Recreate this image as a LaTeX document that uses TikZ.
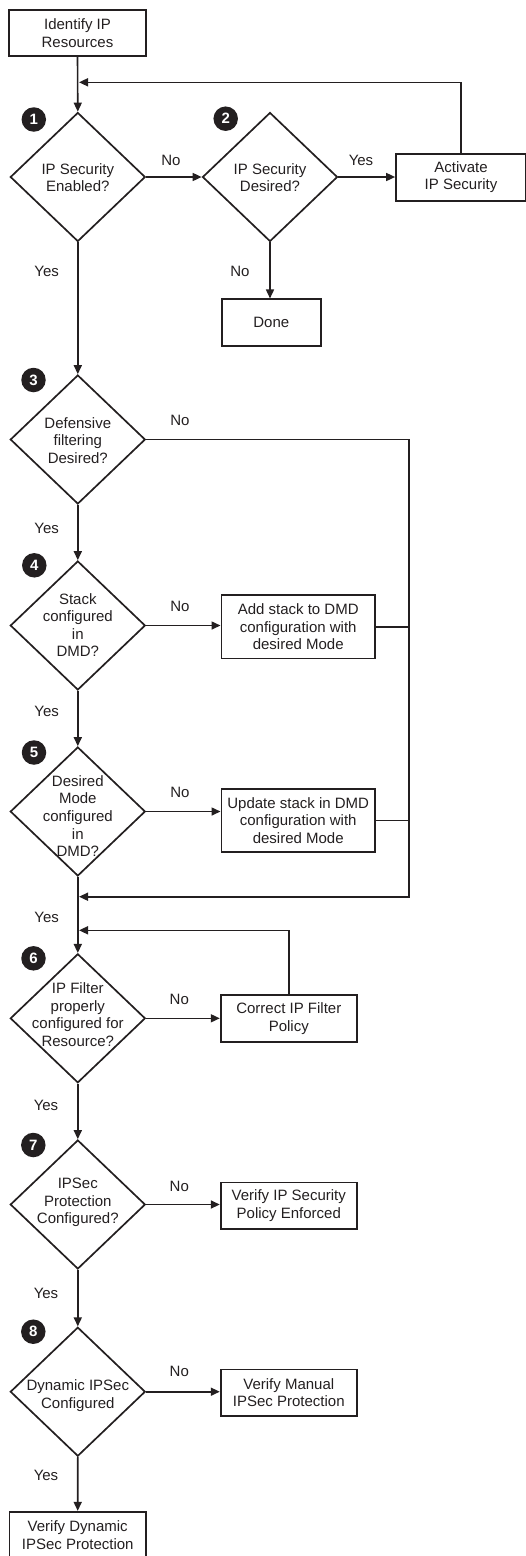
\documentclass[tikz,border=0pt]{standalone}
\usepackage{fontspec}
\setmainfont{Liberation Sans}
\usetikzlibrary{shapes.geometric,arrows.meta}
\definecolor{ink}{HTML}{231F20}
\begin{document}
\begin{tikzpicture}[x=1pt,y=-1pt,
  line width=1.6pt, draw=ink,
  font=\fontsize{15}{17.6}\selectfont,
  box/.style={draw=ink, rectangle, inner sep=0pt, align=center, line width=1.7pt, text=ink},
  dia/.style={draw=ink, diamond, minimum width=135pt, minimum height=129pt, inner sep=0pt, line width=1.7pt},
  dtext/.style={align=center, inner sep=0pt, text=ink},
  lbl/.style={inner sep=0pt, text=ink},
  num/.style={circle, fill=ink, text=white, minimum size=24.5pt, inner sep=0pt, font=\fontsize{15}{15}\selectfont\bfseries},
  arr/.style={draw=ink, line width=1.6pt, -{Triangle[length=9pt,width=8pt]}},
  con/.style={draw=ink, line width=1.6pt},
]
\useasboundingbox (0,0) rectangle (526,1556);

% nodes
\node[box, minimum width=136.4pt, minimum height=46pt] (s0) at (77.5,33) {Identify IP\\Resources};
\node[dia] (d1) at (77.8,177) {};
\node[dtext] (t1) at (77.8,177.5) {IP Security\\Enabled?};
\node[dia] (d2) at (270,177) {};
\node[dtext] (t2) at (270,177.5) {IP Security\\Desired?};
\node[box, minimum width=130pt, minimum height=46.7pt] (act) at (461,177.3) {Activate\\IP Security};
\node[box, minimum width=98.7pt, minimum height=46.4pt] (done) at (271.3,322.5) {Done};

\node[dia] (d3) at (77.8,439.5) {};
\node[dtext] (t3) at (77.8,440.5) {Defensive\\filtering\\Desired?};
\node[dia] (d4) at (77.8,625.5) {};
\node[dtext] (t4) at (77.8,625) {Stack\\configured\\in\\DMD?};
\node[box, minimum width=153.7pt, minimum height=63.3pt] (add) at (298.2,626.7) {Add stack to DMD\\configuration with\\desired Mode};
\node[dia] (d5) at (77.8,811.5) {};
\node[dtext] (t5) at (77.8,816) {Desired\\Mode\\configured\\in\\DMD?};
\node[box, minimum width=153.7pt, minimum height=63pt] (upd) at (298.2,820.5) {Update stack in DMD\\configuration with\\desired Mode};

\node[dia] (d6) at (77.8,1018.3) {};
\node[dtext] (t6) at (77.8,1014.5) {IP Filter\\properly\\configured for\\Resource?};
\node[box, minimum width=136.3pt, minimum height=46.4pt] (cor) at (288.8,1018.5) {Correct IP Filter\\Policy};
\node[dia] (d7) at (77.8,1204.5) {};
\node[dtext] (t7) at (77.8,1202.5) {IPSec\\Protection\\Configured?};
\node[box, minimum width=136.3pt, minimum height=46.7pt] (vip) at (288.8,1205.7) {Verify IP Security\\Policy Enforced};
\node[dia] (d8) at (77.8,1391.7) {};
\node[dtext] (t8) at (77.8,1395.5) {Dynamic IPSec\\Configured};
\node[box, minimum width=136.3pt, minimum height=46.7pt] (vman) at (288.8,1392.7) {Verify Manual\\IPSec Protection};
\node[box, minimum width=136.7pt, minimum height=47.2pt] (fin) at (77.7,1535.3) {Verify Dynamic\\IPSec Protection};

% step numbers
\node[num] (n1) at (33.8,119.5) {1};
\node[num] (n2) at (225.7,118.7) {2};
\node[num] (n3) at (33.5,380) {3};
\node[num] (n4) at (34.3,565.3) {4};
\node[num] (n5) at (34,752.5) {5};
\node[num] (n6) at (33.5,958.3) {6};
\node[num] (n7) at (33.3,1145) {7};
\node[num] (n8) at (33.3,1331.7) {8};

% labels
\node[lbl] (l1) at (171,160.7) {No};
\node[lbl] (l2) at (361,160.7) {Yes};
\node[lbl] (l3) at (46.7,271.7) {Yes};
\node[lbl] (l4) at (240,271.7) {No};
\node[lbl] (l5) at (180,420) {No};
\node[lbl] (l6) at (46.7,528.3) {Yes};
\node[lbl] (l7) at (180,606) {No};
\node[lbl] (l8) at (46.7,711.7) {Yes};
\node[lbl] (l9) at (180,792.7) {No};
\node[lbl] (l10) at (46.7,917.7) {Yes};
\node[lbl] (l11) at (179.3,999.3) {No};
\node[lbl] (l12) at (46,1105) {Yes};
\node[lbl] (l13) at (179.3,1186) {No};
\node[lbl] (l14) at (46,1293.3) {Yes};
\node[lbl] (l15) at (179.3,1371.7) {No};
\node[lbl] (l16) at (46,1475.7) {Yes};

% junction points
\coordinate (j1) at (79,82.3);
\coordinate (rx) at (409,896.7);
\coordinate (j2) at (79,896.7);
\coordinate (j3) at (79,930.3);

% connectors
\draw[arr] (s0.south) -- (d1.north);
\draw[arr] (act.north) |- (j1);
\draw[arr] (d1.east) -- (d2.west);
\draw[arr] (d2.east) -- (d2.east -| act.west);
\draw[arr] (d2.south) -- (d2.south |- done.north);
\draw[arr] (d1.south) -- (d3.north);
\draw[arr] (d3.east) -| (rx) -- (j2);
\draw[arr] (d3.south) -- (d4.north);
\draw[arr] (d4.east) -- (d4.east -| add.west);
\draw[con] (add.east) -- (add.east -| rx);
\draw[arr] (d4.south) -- (d5.north);
\draw[arr] (d5.east) -- (d5.east -| upd.west);
\draw[con] (upd.east) -- (upd.east -| rx);
\draw[arr] (d5.south) -- (d6.north);
\draw[arr] (cor.north) |- (j3);
\draw[arr] (d6.east) -- (d6.east -| cor.west);
\draw[arr] (d6.south) -- (d7.north);
\draw[arr] (d7.east) -- (d7.east -| vip.west);
\draw[arr] (d7.south) -- (d8.north);
\draw[arr] (d8.east) -- (d8.east -| vman.west);
\draw[arr] (d8.south) -- (fin.north);
\end{tikzpicture}
\end{document}
